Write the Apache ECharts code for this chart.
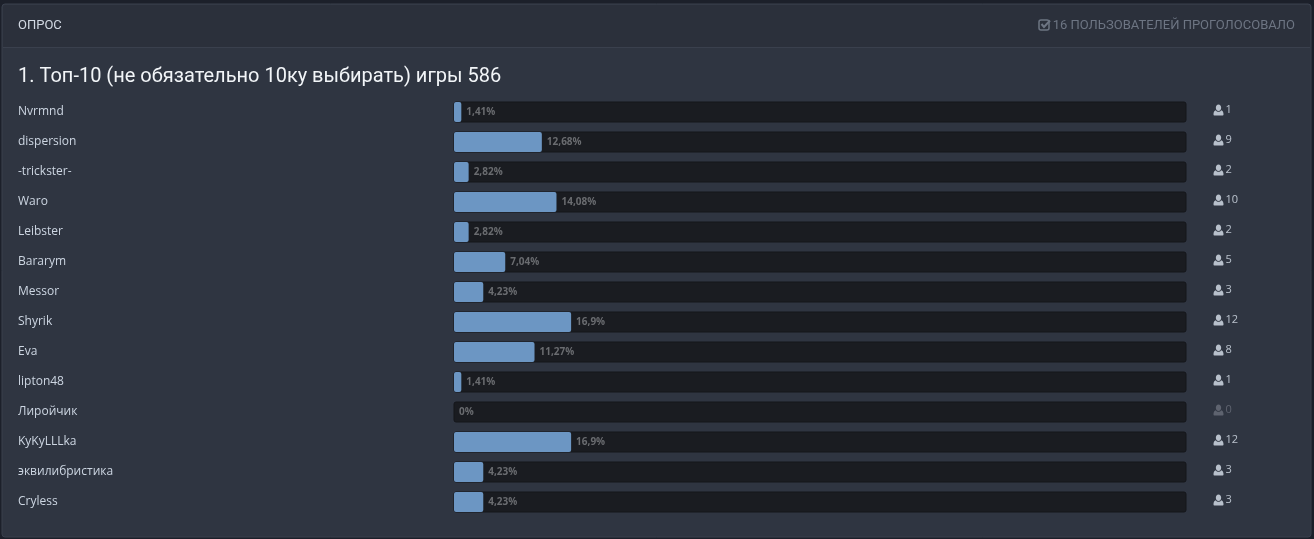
<!DOCTYPE html>
<html><head><meta charset="utf-8">
<style>html,body{margin:0;padding:0;background:#1c202a}#c{width:1314px;height:539px}</style>
<script src="https://cdn.jsdelivr.net/npm/echarts@6/dist/echarts.min.js"></script>
</head><body><div id="c"></div>
<script>
const categories=["Nvrmnd","dispersion","-trickster-","Waro","Leibster","Bararym","Messor","Shyrik","Eva","lipton48","Лиройчик","KyKyLLLka","эквилибристика","Cryless"];
const fillPercent=[1,12,2,14,2,7,4,16,11,1,0,16,4,4];
const percentLabels=["1,41%","12,68%","2,82%","14,08%","2,82%","7,04%","4,23%","16,9%","11,27%","1,41%","0%","16,9%","4,23%","4,23%"];
const votes=[1,9,2,10,2,5,3,12,8,1,0,12,3,3];
const userIcon="path://M6 0C4 0 2.800 1.700 2.800 3.600S4 7.200 6 7.200s3.200-1.700 3.200-3.600S8 0 6 0zM2.800 6.200C1 6.700 0 8.200 0 10.400V11c0 .6.4 1 1 1h10c.6 0 1-.4 1-1v-.6c0-2.200-1-3.700-2.800-4.200C8.500 7.300 7.300 8 6 8S3.500 7.300 2.800 6.200z";

const chart=echarts.init(document.getElementById('c'),null,{renderer:'canvas'});
chart.setOption({
 animation:false,
 backgroundColor:'#1c202a',
 graphic:[
  {type:'rect',z:-10,silent:true,shape:{x:2,y:4,width:1309,height:533,r:3},style:{fill:'#2f3541',stroke:'#3a404d',lineWidth:1}},
  {type:'rect',z:-9,silent:true,shape:{x:3,y:5,width:1307,height:42,r:[3,3,0,0]},style:{fill:'#2b303b'}},
  {type:'rect',z:-9,silent:true,shape:{x:3,y:47,width:1307,height:1},style:{fill:'#3a404d'}},
  {type:'text',silent:true,x:18,y:19,style:{text:'ОПРОС',fill:'#d3dae4',font:'400 13px Roboto'}},
  {type:'text',silent:true,x:1295,y:19,style:{text:'16 ПОЛЬЗОВАТЕЛЕЙ ПРОГОЛОСОВАЛО',fill:'#6d7583',font:'13px Roboto',align:'right'}},
  {type:'rect',silent:true,shape:{x:1039,y:20,width:10,height:10,r:2},style:{fill:'none',stroke:'#6d7583',lineWidth:1.5}},
  {type:'polyline',silent:true,shape:{points:[[1041.5,24],[1044,27],[1050,20.5]]},style:{fill:'none',stroke:'#6d7583',lineWidth:2}}
 ],
 title:{text:'1. Топ-10 (не обязательно 10ку выбирать) игры 586',left:18,top:65,padding:0,
  textStyle:{color:'#f2f5f8',fontFamily:'Roboto',fontWeight:400,fontSize:20,lineHeight:24}},
 grid:[
  {left:454,top:97,width:732,height:420},
  {left:1218.5,top:97,width:80,height:420}
 ],
 xAxis:[
  {gridIndex:0,type:'value',min:0,max:100,show:false},
  {gridIndex:1,type:'value',min:0,max:100,show:false}
 ],
 yAxis:[
  {gridIndex:0,type:'category',inverse:true,data:categories,
   axisLine:{show:false},axisTick:{show:false},splitLine:{show:false},
   axisLabel:{align:'left',margin:436,color:'#cdd6e2',fontFamily:'Open Sans',fontSize:12,interval:0,padding:[4,0,0,0]}},
  {gridIndex:1,type:'category',inverse:true,data:categories,show:false}
 ],
 series:[
  {type:'bar',xAxisIndex:0,yAxisIndex:0,data:fillPercent,barWidth:20,
   itemStyle:{color:'#6c96c3',borderRadius:2},
   showBackground:true,
   backgroundStyle:{color:'#1a1c21',borderColor:'#14161a',borderWidth:1,borderRadius:2},
   label:{show:true,position:'right',distance:5,color:'#6a6c70',fontFamily:'Open Sans',fontWeight:'bold',fontSize:10,
     formatter:p=>percentLabels[p.dataIndex]}},
  {type:'scatter',xAxisIndex:1,yAxisIndex:1,
   data:votes.map((v,i)=>({value:[0,i],
     itemStyle:{color:v===0?'#6a6f7a':'#dbe3ee'},
     label:{color:v===0?'#6a6f7a':'#dbe3ee'}})),
   symbol:userIcon,symbolSize:[10,11],symbolOffset:[0,-2],clip:false,
   label:{show:true,position:'right',distance:2,offset:[0,0],fontFamily:'Open Sans',fontSize:11,
     formatter:p=>String(votes[p.dataIndex])}}
 ]
});
</script></body></html>
